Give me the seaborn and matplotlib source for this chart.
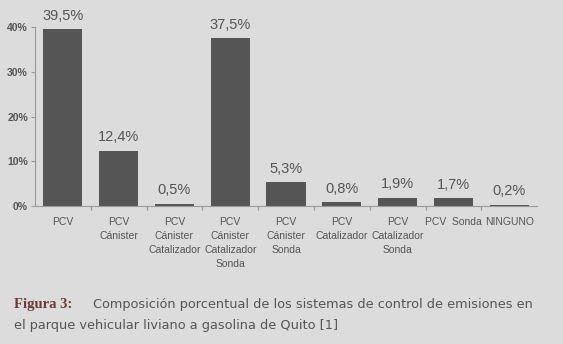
import numpy as np
import pandas as pd
import matplotlib
matplotlib.use("Agg")
import matplotlib.pyplot as plt
import seaborn as sns

categories = ["PCV", "PCV\nCánister", "PCV\nCánister\nCatalizador",
              "PCV\nCánister\nCatalizador\nSonda", "PCV\nCánister\nSonda",
              "PCV\nCatalizador", "PCV\nCatalizador\nSonda", "PCV  Sonda", "NINGUNO"]
shares = [39.5, 12.4, 0.5, 37.5, 5.3, 0.8, 1.9, 1.7, 0.2]
share_labels = ["39,5%", "12,4%", "0,5%", "37,5%", "5,3%", "0,8%", "1,9%", "1,7%", "0,2%"]
yticks = [0, 10, 20, 30, 40]

df = pd.DataFrame({"sistema": categories, "pct": shares})

sns.set_style("white")
plt.rcParams["font.family"] = ["Liberation Sans", "DejaVu Sans"]
bg = "#dcdcdc"

fig = plt.figure(figsize=(5.63, 3.44), dpi=100, facecolor=bg)
ax = fig.add_axes([0.062, 0.401, 0.892, 0.52])
ax.set_facecolor(bg)

sns.barplot(data=df, x="sistema", y="pct", color="#555555", width=0.7,
            saturation=1, linewidth=0, ax=ax)

ax.set_ylim(0, 40)
ax.set_xlim(-0.5, len(categories) - 0.5)
ax.set_yticks(yticks)
ax.set_yticklabels([f"{t}%" for t in yticks], fontsize=7.5, fontweight="bold", color="#555555")
ax.set_xticks(range(len(categories)))
ax.set_xticklabels(categories, fontsize=7.5, color="#555555", linespacing=1.5)
ax.tick_params(axis="x", length=0, pad=8)
ax.tick_params(axis="y", length=3, color="#999999", pad=2, direction="out", left=True)
# small separators between categories
for b in np.arange(0.5, len(categories) - 0.5, 1):
    ax.plot([b, b], [0, -0.8], color="#999999", lw=0.8, clip_on=False)

for s in ["top", "right"]:
    ax.spines[s].set_visible(False)
for s in ["left", "bottom"]:
    ax.spines[s].set_color("#999999")
    ax.spines[s].set_linewidth(0.8)
ax.set_xlabel("")
ax.set_ylabel("")

for i, (v, lab) in enumerate(zip(shares, share_labels)):
    ax.text(i, v + 1.5, lab, ha="center", va="bottom", fontsize=10.5,
            color="#555555", clip_on=False)

fig.text(0.024, 0.105, "Figura 3:", fontsize=10.5, fontweight="bold",
         family=["Liberation Serif", "DejaVu Serif"], color="#6b3a3a")
fig.text(0.165, 0.105, "Composición porcentual de los sistemas de control de emisiones en",
         fontsize=9.3, color="#555555", family=["DejaVu Sans"])
fig.text(0.024, 0.045, "el parque vehicular liviano a gasolina de Quito [1]",
         fontsize=9.3, color="#555555", family=["DejaVu Sans"])

fig.savefig("out.png", dpi=100, facecolor=bg)
